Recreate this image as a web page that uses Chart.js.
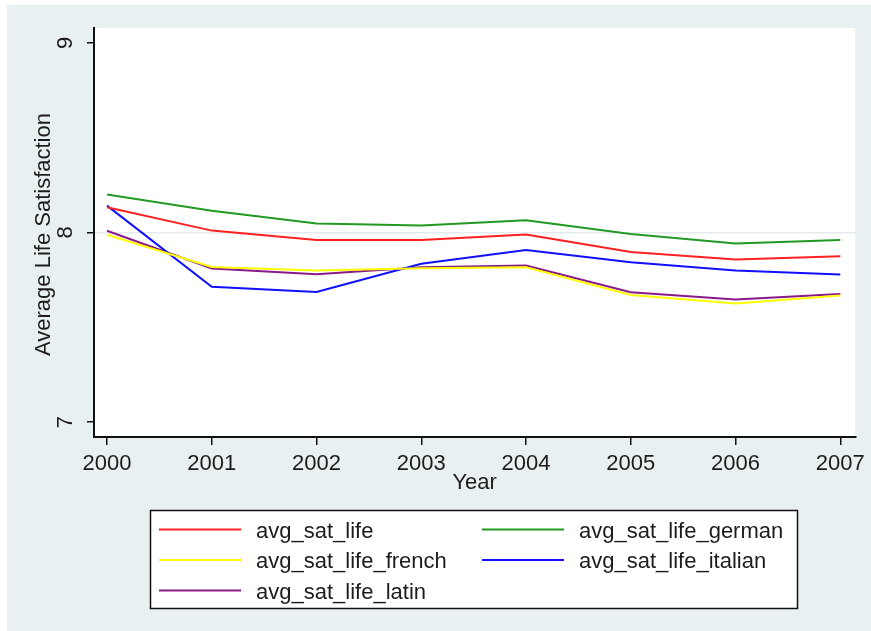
<!DOCTYPE html>
<html>
<head>
<meta charset="utf-8">
<script src="https://cdn.jsdelivr.net/npm/chart.js@4.4.1/dist/chart.umd.min.js"></script>
<style>
  html, body { margin: 0; padding: 0; background: #ffffff; }
  #wrap { width: 871px; height: 631px; position: relative; }
</style>
</head>
<body>
<div id="wrap"><canvas id="chart" width="871" height="631"></canvas></div>
<script>
// Survey years
const years = [2000, 2001, 2002, 2003, 2004, 2005, 2006, 2007];

// Average life satisfaction by language group
const avgSatLife        = [8.133, 8.010, 7.961, 7.961, 7.990, 7.897, 7.858, 7.875];
const avgSatLifeGerman  = [8.200, 8.115, 8.047, 8.037, 8.065, 7.992, 7.942, 7.960];
const avgSatLifeFrench  = [7.988, 7.818, 7.800, 7.812, 7.817, 7.670, 7.626, 7.668];
const avgSatLifeItalian = [8.142, 7.714, 7.686, 7.835, 7.907, 7.843, 7.800, 7.779];
const avgSatLifeLatin   = [8.009, 7.810, 7.780, 7.817, 7.826, 7.685, 7.647, 7.675];

// Axis ticks
const yTicks = [7, 8, 9];
const xTicks = years;

const FONT = '"Liberation Sans", Arial, sans-serif';
const TEXT = '#1c1c1c';

function series(label, values, color) {
  return {
    label,
    data: years.map((y, i) => ({ x: y, y: values[i] })),
    borderColor: color,
    backgroundColor: color,
    borderWidth: 2,
    pointRadius: 0,
    tension: 0,
    fill: false
  };
}

const datasets = [
  series('avg_sat_life', avgSatLife, '#ff2020'),
  series('avg_sat_life_german', avgSatLifeGerman, '#229922'),
  series('avg_sat_life_french', avgSatLifeFrench, '#ffff00'),
  series('avg_sat_life_italian', avgSatLifeItalian, '#1010ff'),
  series('avg_sat_life_latin', avgSatLifeLatin, '#8a1a8a')
];

// Backdrop: outer graph region and white plot region
const backdrop = {
  id: 'backdrop',
  beforeDraw(chart) {
    const { ctx, chartArea: a } = chart;
    ctx.save();
    ctx.fillStyle = '#ffffff';
    ctx.fillRect(0, 0, chart.width, chart.height);
    ctx.fillStyle = '#e9f0f2';
    ctx.fillRect(7, 5, chart.width - 7, chart.height - 5);
    ctx.fillStyle = '#ffffff';
    ctx.fillRect(a.left, a.top, a.right - a.left, a.bottom - a.top);
    ctx.restore();
  }
};

// Rotated y labels, axis titles and the boxed two-column legend
const annotations = {
  id: 'annotations',
  afterDraw(chart) {
    const { ctx, chartArea: a } = chart;
    const yScale = chart.scales.y;
    ctx.save();
    ctx.fillStyle = TEXT;
    ctx.font = '22px ' + FONT;
    ctx.textAlign = 'center';
    ctx.textBaseline = 'middle';

    // y tick labels, rotated
    yTicks.forEach(v => {
      const py = yScale.getPixelForValue(v);
      ctx.save();
      ctx.translate(66, py);
      ctx.rotate(-Math.PI / 2);
      ctx.fillText(String(v), 0, 0);
      ctx.restore();
    });

    // y axis title
    ctx.save();
    ctx.translate(44, (a.top + a.bottom) / 2 + 2);
    ctx.rotate(-Math.PI / 2);
    ctx.fillText('Average Life Satisfaction', 0, 0);
    ctx.restore();

    // x axis title
    ctx.fillText('Year', (a.left + a.right) / 2, 483);

    // legend
    const box = { x: 150.5, y: 510.5, w: 647, h: 98 };
    ctx.fillStyle = '#ffffff';
    ctx.fillRect(box.x, box.y, box.w, box.h);
    ctx.strokeStyle = '#111111';
    ctx.lineWidth = 1.5;
    ctx.strokeRect(box.x, box.y, box.w, box.h);

    const cols = [{ x0: 159, x1: 241, tx: 256 }, { x0: 482, x1: 564, tx: 579 }];
    const rows = [529.5, 560, 590.5];
    ctx.textAlign = 'left';
    chart.data.datasets.forEach((ds, i) => {
      const c = cols[i % 2];
      const r = rows[Math.floor(i / 2)];
      ctx.strokeStyle = ds.borderColor;
      ctx.lineWidth = 2;
      ctx.beginPath();
      ctx.moveTo(c.x0, r);
      ctx.lineTo(c.x1, r);
      ctx.stroke();
      ctx.fillStyle = TEXT;
      ctx.fillText(ds.label, c.tx, r + 2);
    });
    ctx.restore();
  }
};

new Chart(document.getElementById('chart'), {
  type: 'line',
  data: { datasets },
  options: {
    responsive: false,
    animation: false,
    devicePixelRatio: 1,
    layout: { padding: { left: 0, top: 28, right: 13, bottom: 0 } },
    plugins: {
      legend: { display: false },
      tooltip: { enabled: false }
    },
    scales: {
      x: {
        type: 'linear',
        min: 1999.876,
        max: 2007.143,
        afterBuildTicks(scale) { scale.ticks = xTicks.map(v => ({ value: v })); },
        afterFit(scale) { scale.height = 194; },
        grid: {
          color: 'rgba(0,0,0,0)',
          tickColor: '#111111',
          tickLength: 8,
          lineWidth: 1.5,
          drawOnChartArea: false
        },
        border: { display: true, color: '#111111', width: 2 },
        ticks: {
          color: TEXT,
          font: { family: FONT, size: 22 },
          padding: 6,
          maxRotation: 0,
          minRotation: 0,
          autoSkip: false,
          callback: v => String(v)
        }
      },
      y: {
        type: 'linear',
        min: 6.921,
        max: 9.079,
        afterBuildTicks(scale) { scale.ticks = yTicks.map(v => ({ value: v })); },
        afterFit(scale) { scale.width = 94; },
        grid: {
          color: ctx => (ctx.tick && ctx.tick.value === 8) ? '#e4ebee' : 'rgba(0,0,0,0)',
          tickColor: '#111111',
          tickLength: 7,
          lineWidth: 1.5
        },
        border: { display: true, color: '#111111', width: 2 },
        ticks: { display: false }
      }
    }
  },
  plugins: [backdrop, annotations]
});
</script>
</body>
</html>
